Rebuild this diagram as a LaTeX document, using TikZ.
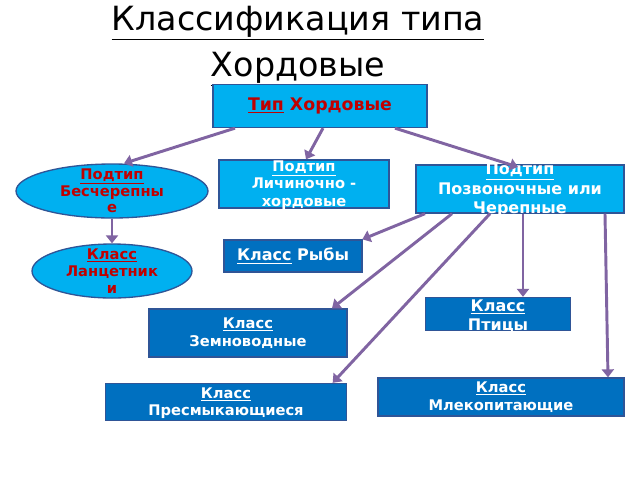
\documentclass[tikz,border=0pt]{standalone}
\usepackage{fontspec}
\setmainfont{DejaVu Sans}
\usetikzlibrary{shapes.geometric,arrows.meta}
\definecolor{cy}{HTML}{00B0F0}
\definecolor{db}{HTML}{0070C0}
\definecolor{bd}{HTML}{2F5597}
\definecolor{ar}{HTML}{8064A2}
\definecolor{rd}{HTML}{C00000}
\tikzset{
 box/.style={draw=bd,line width=1pt,inner sep=0pt},
 lt/.style={fill=cy},
 dk/.style={fill=db},
 ell/.style={ellipse,draw=bd,line width=1pt,fill=cy,inner sep=0pt},
 wt/.style={text=white,font=\bfseries\fontsize{11}{13}\selectfont,align=center},
 rt/.style={text=rd,font=\bfseries\fontsize{11}{12.5}\selectfont,align=center},
 ar/.style={draw=ar,line width=2.2pt,-{Triangle[length=6pt,width=9pt]}}
}
\begin{document}
\begin{tikzpicture}[x=0.75pt,y=-0.75pt]
\useasboundingbox[fill=white] (0,0) rectangle (640,480);
\node[font=\fontsize{25}{34}\selectfont,align=center] (title) at (298,46) {\underline{Классификация типа}\\\underline{Хордовые}};
\node[box,lt,minimum width=160.5pt,minimum height=32.25pt] (t) at (320,106) {};
\node[rt,font=\bfseries\fontsize{13}{15}\selectfont] at (320,106) {\underline{Тип} Хордовые};
\node[ell,minimum width=144pt,minimum height=40.5pt] (b) at (112,191) {};
\node[rt] at (112,191) {\underline{Подтип}\\Бесчерепны\\е};
\node[box,lt,minimum width=127.5pt,minimum height=36pt] (l) at (304,184) {};
\node[wt] at (304,185) {\underline{Подтип}\\Личиночно -\\хордовые};
\node[box,lt,minimum width=156pt,minimum height=36pt] (p) at (520,189) {};
\node[wt,font=\bfseries\fontsize{12}{14.5}\selectfont] at (520,190) {\underline{Подтип}\\Позвоночные или\\Черепные};
\node[ell,minimum width=120pt,minimum height=40.5pt] (la) at (112,271) {};
\node[rt] at (112,271) {\underline{Класс}\\Ланцетник\\и};
\node[box,dk,minimum width=103.5pt,minimum height=24pt] (f) at (293,256) {};
\node[wt,font=\bfseries\fontsize{12}{14}\selectfont] at (293,256) {\underline{Класс} Рыбы};
\node[box,dk,minimum width=108.75pt,minimum height=24.75pt] (bi) at (498,314) {};
\node[wt,font=\bfseries\fontsize{12}{14}\selectfont] at (498,316) {\underline{Класс}\\Птицы};
\node[box,dk,minimum width=148.5pt,minimum height=36pt] (am) at (248,333) {};
\node[wt] at (248,333) {\underline{Класс}\\Земноводные};
\node[box,dk,minimum width=184.5pt,minimum height=28.5pt] (ma) at (501,397) {};
\node[wt] at (501,397) {\underline{Класс}\\Млекопитающие};
\node[box,dk,minimum width=180.75pt,minimum height=27.75pt] (re) at (226,402) {};
\node[wt] at (226,403) {\underline{Класс}\\Пресмыкающиеся};
\draw[ar] ([xshift=-63.75pt]t.south) -- ([xshift=9pt]b.north);
\draw[ar] ([xshift=2.25pt]t.south) -- ([xshift=1.5pt]l.north);
\draw[ar] ([xshift=56.25pt]t.south) -- ([xshift=-1.5pt,yshift=-2pt]p.north);
\draw[ar] (b.south) -- (la.north);
\draw[ar] ([xshift=-71.25pt]p.south) -- ([xshift=52pt]f.north);
\draw[ar] ([xshift=-51pt]p.south) -- ([xshift=63pt]am.north);
\draw[ar] ([xshift=-22.5pt]p.south) -- ([xshift=80pt]re.north);
\draw[ar] ([xshift=2.25pt]p.south) -- ([xshift=18.75pt]bi.north);
\draw[ar] ([xshift=63.75pt]p.south) -- ([xshift=80.25pt]ma.north);
\end{tikzpicture}
\end{document}
